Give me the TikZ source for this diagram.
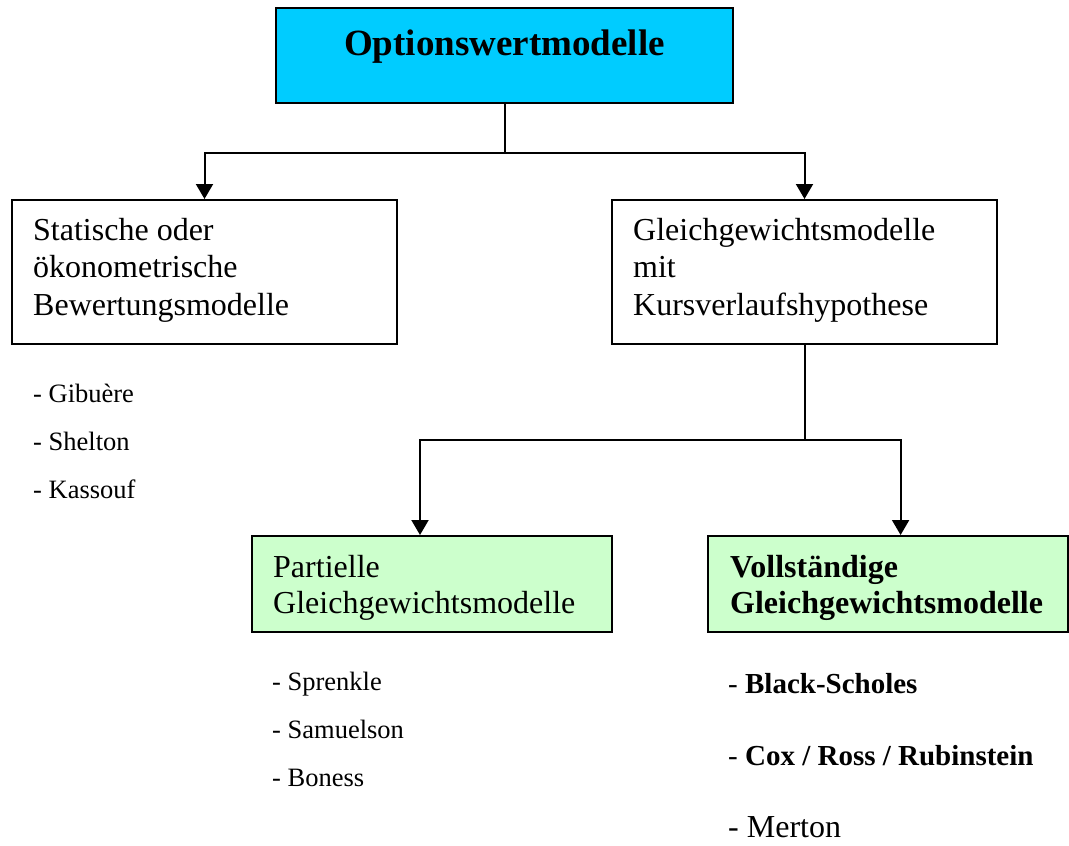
\documentclass[tikz,border=0pt]{standalone}
\usepackage{fontspec}
\setmainfont{Liberation Serif}
\usetikzlibrary{arrows.meta}

\definecolor{topcyan}{HTML}{00CCFF}
\definecolor{palegreen}{HTML}{CCFFCC}

\newcommand{\fs}[1]{\fontsize{#1}{#1}\selectfont}

\tikzset{
  box/.style={draw=black, line width=2pt, rectangle, inner sep=0pt},
  conn/.style={draw=black, line width=2pt},
  arrowconn/.style={conn, -{Triangle[width=17pt,length=15pt]}},
  txt/.style={inner sep=0pt, anchor=base west},
  boxtxt/.style={txt, font=\fs{32}},
  listtxt/.style={txt, font=\fs{26.5}},
  boldlist/.style={txt, font=\fs{29}},
}

\begin{document}
\begin{tikzpicture}[x=1pt, y=-1pt]
\useasboundingbox[fill=white] (0,0) rectangle (1069,846);

% boxes
\node[box, fill=topcyan, minimum width=457, minimum height=95] (top) at (504.5,55.5) {};
\node[box, minimum width=385, minimum height=144] (stat) at (204.5,272) {};
\node[box, minimum width=385, minimum height=144] (gleich) at (804.5,272) {};
\node[box, fill=palegreen, minimum width=360, minimum height=96] (partial) at (432,584) {};
\node[box, fill=palegreen, minimum width=360, minimum height=96] (voll) at (888,584) {};

% box texts
\node[inner sep=0pt, anchor=base, font=\fs{37}\bfseries] (title) at (504.5,55.5) {Optionswertmodelle};

\node[boxtxt] (stat1) at (33,240) {Statische oder};
\node[boxtxt] (stat2) at (33,277.5) {ökonometrische};
\node[boxtxt] (stat3) at (33,315) {Bewertungsmodelle};

\node[boxtxt] (gl1) at (633,240) {Gleichgewichtsmodelle};
\node[boxtxt] (gl2) at (633,277.5) {mit};
\node[boxtxt] (gl3) at (633,315) {Kursverlaufshypothese};

\node[boxtxt] (pa1) at (273,577) {Partielle};
\node[boxtxt] (pa2) at (273,613) {Gleichgewichtsmodelle};

\node[boxtxt, font=\fs{32}\bfseries] (vo1) at (730,577) {Vollständige};
\node[boxtxt, font=\fs{32}\bfseries] (vo2) at (730,613) {Gleichgewichtsmodelle};

% lists of authors
\node[listtxt] (l1) at (33,402) {- Gibuère};
\node[listtxt] (l2) at (33,450) {- Shelton};
\node[listtxt] (l3) at (33,498) {- Kassouf};

\node[listtxt] (m1) at (272,690.5) {- Sprenkle};
\node[listtxt] (m2) at (272,738) {- Samuelson};
\node[listtxt] (m3) at (272,786) {- Boness};

\node[boldlist] (r1) at (728,693) {- \textbf{Black-Scholes}};
\node[boldlist] (r2) at (728,765) {- \textbf{Cox / Ross / Rubinstein}};
\node[txt, font=\fs{32}] (r3) at (728,837) {- Merton};

% connectors
\coordinate (split1) at (504.5,152.5);
\coordinate (split2) at (804.5,440);
\draw[conn] (top.south) -- (split1);
\draw[arrowconn] (split1) -| (stat.north);
\draw[arrowconn] (split1) -| (gleich.north);
\draw[conn] (gleich.south) -- (split2);
\draw[arrowconn] (split2) -| ([xshift=-12pt]partial.north);
\draw[arrowconn] (split2) -| ([xshift=12.6pt]voll.north);
\end{tikzpicture}
\end{document}
